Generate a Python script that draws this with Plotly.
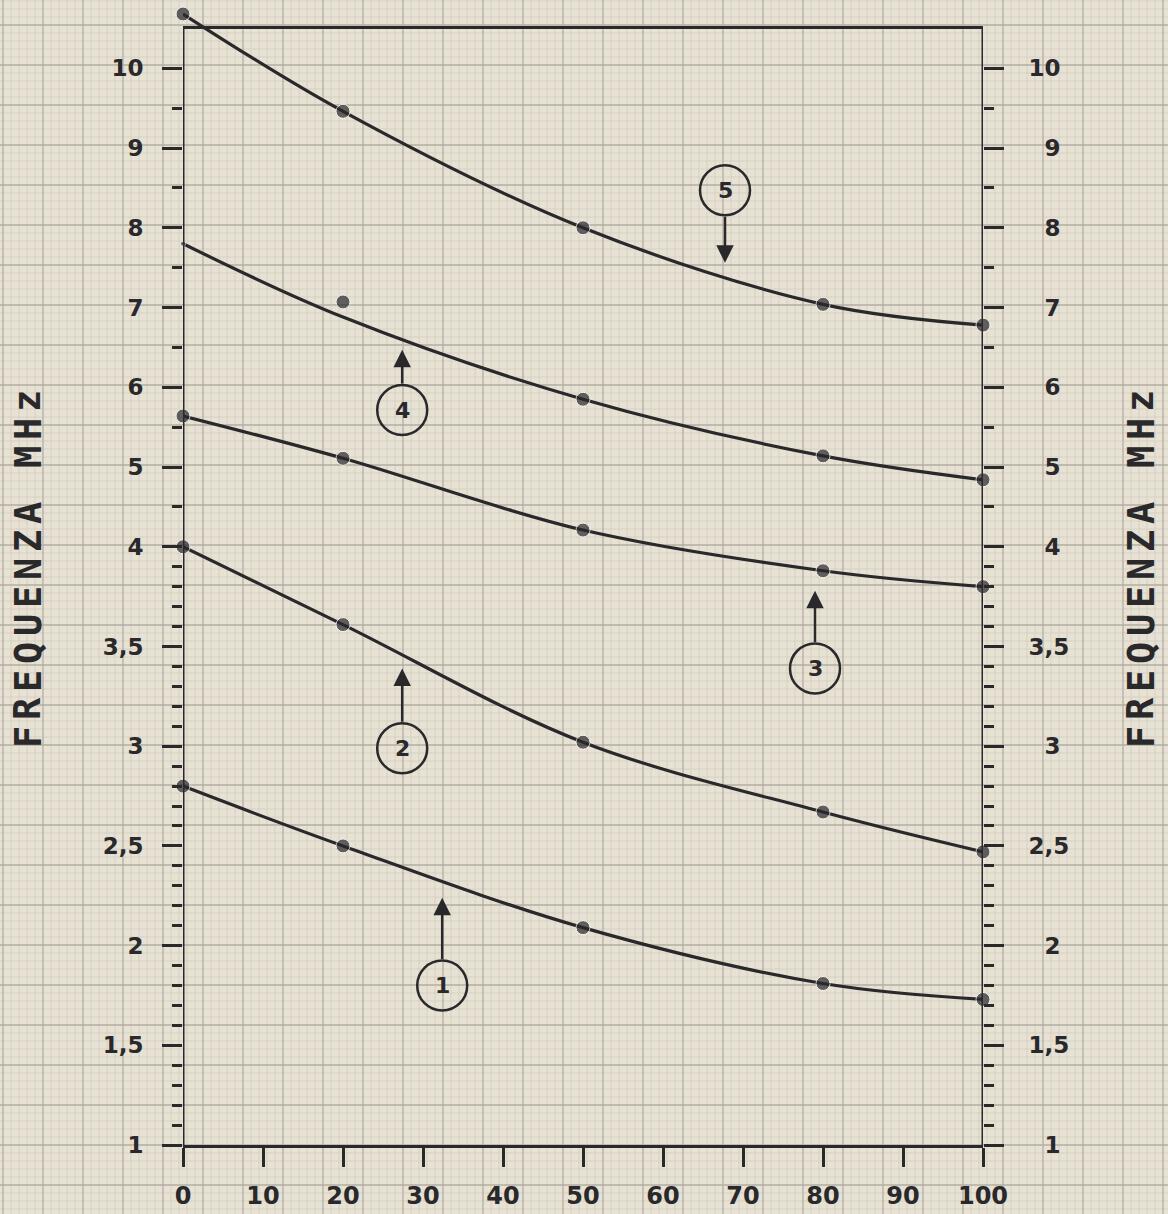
import numpy as np
import plotly.graph_objects as go

# ---------------- data ----------------
x_vals = [0, 20, 50, 80, 100]
curve1 = [2.80, 2.50, 2.09, 1.81, 1.73]
curve2 = [4.00, 3.61, 3.02, 2.67, 2.47]
curve3 = [5.64, 5.11, 4.21, 3.88, 3.80]
curve4_points = [7.80, 7.07, 5.85, 5.14, 4.84]
curve4_line = [7.80, 6.88, 5.85, 5.14, 4.84]
curve5 = [10.68, 9.46, 8.00, 7.04, 6.78]

x_ticks = [0, 10, 20, 30, 40, 50, 60, 70, 80, 90, 100]
y_major = [1, 1.5, 2, 2.5, 3, 3.5, 4, 5, 6, 7, 8, 9, 10]
y_major_text = ["1", "1,5", "2", "2,5", "3", "3,5", "4", "5", "6", "7", "8", "9", "10"]
y_minor = [round(1 + 0.1 * i, 2) for i in range(31)] + [4.5, 5.5, 6.5, 7.5, 8.5, 9.5]
frame_top = 10.51

# curve labels: (number, x, circle centre value, arrow tip value)
labels = [("1", 32.4, 1.80, 2.24),
          ("2", 27.4, 2.99, 3.39),
          ("3", 79.0, 3.39, 3.78),
          ("4", 27.4, 5.715, 6.47),
          ("5", 67.75, 8.47, 7.56)]

axis_title = "FREQUENZA MHz"

# ---------------- scale (the paper's broken frequency scale) ----------------
def tr(v):
    v = np.asarray(v, dtype=float)
    return np.where(v <= 4, v - 1, 3 + 0.4 * (v - 4))

INK = "#29282b"
BG = "#e7e2d4"
PX_PER_UNIT = 199.4
W, H = 1168, 1214
L, R, T, B = 183, 185, 5, 69
PW, PH = W - L - R, H - T - B
BOTTOM_PX = H - B
Y_TOP = PH / PX_PER_UNIT

y_minor_clean = [v for v in y_minor if all(abs(v - m) > 1e-6 for m in y_major)]

fig = go.Figure()

def add_curve(line_vals, point_vals, first_small=False):
    fig.add_trace(go.Scatter(x=x_vals, y=tr(line_vals), mode="lines",
                             line=dict(shape="spline", smoothing=1.0, color=INK, width=3.2),
                             cliponaxis=False, showlegend=False, hoverinfo="skip"))
    sizes = [14] * len(point_vals)
    if first_small:
        sizes[0] = 5
    fig.add_trace(go.Scatter(x=x_vals, y=tr(point_vals), mode="markers",
                             marker=dict(size=sizes, color=INK),
                             cliponaxis=False, showlegend=False))

add_curve(curve1, curve1)
add_curve(curve2, curve2)
add_curve(curve3, curve3)
add_curve(curve4_line, curve4_points, first_small=True)
add_curve(curve5, curve5)

# invisible trace so the right-hand axis is drawn
fig.add_trace(go.Scatter(x=x_vals, y=tr(curve1), yaxis="y2", mode="markers",
                         marker=dict(opacity=0), showlegend=False, hoverinfo="skip"))

# ---------------- graph paper ----------------
def xp(px):
    return (px - L) / PW

def yp(py):
    return (BOTTOM_PX - py) / PH

fine_v, major_v = [], []
for px in range(3, W + 1, 8):
    (major_v if (px - 3) % 40 == 0 else fine_v).append(px)
fine_h, major_h = [], []
for py in range(BOTTOM_PX % 8, H + 1, 8):
    (major_h if (BOTTOM_PX - py) % 40 == 0 else fine_h).append(py)

def path_for(vs, hs):
    parts = []
    for px in vs:
        parts.append(f"M{xp(px):.5f},{yp(H):.5f}L{xp(px):.5f},{yp(0):.5f}")
    for py in hs:
        parts.append(f"M{xp(0):.5f},{yp(py):.5f}L{xp(W):.5f},{yp(py):.5f}")
    return "".join(parts)

shapes = [
    dict(type="path", xref="paper", yref="paper", path=path_for(fine_v, fine_h),
         line=dict(color="#d5d0c2", width=1), layer="below"),
    dict(type="path", xref="paper", yref="paper", path=path_for(major_v, major_h),
         line=dict(color="#b3afa3", width=1.3), layer="below"),
]

# frame: left, right and top lines
top_t = float(tr(frame_top))
for x0, y0, x1, y1 in [(0, 0, 0, top_t), (100, 0, 100, top_t), (0, top_t, 100, top_t)]:
    shapes.append(dict(type="line", xref="x", yref="y", x0=x0, y0=y0, x1=x1, y1=y1,
                       line=dict(color=INK, width=3), layer="above"))

# ---------------- curve labels ----------------
annotations = []
R_CIRC = 25
for num, lx, cval, tval in labels:
    shapes.append(dict(type="circle", xref="x", yref="y", xsizemode="pixel", ysizemode="pixel",
                       xanchor=lx, yanchor=float(tr(cval)),
                       x0=-R_CIRC, x1=R_CIRC, y0=-R_CIRC, y1=R_CIRC,
                       line=dict(color=INK, width=2.5), layer="above"))
    annotations.append(dict(x=lx, y=float(tr(cval)), xref="x", yref="y", text=f"<b>{num}</b>",
                            showarrow=False, xanchor="center", yanchor="middle",
                            font=dict(family="DejaVu Sans", size=22, color=INK)))
    dist = (float(tr(tval)) - float(tr(cval))) * PX_PER_UNIT
    ay = (abs(dist) - R_CIRC) * (1 if dist > 0 else -1)
    annotations.append(dict(x=lx, y=float(tr(tval)), xref="x", yref="y", text="",
                            showarrow=True, ax=0, ay=ay, arrowhead=2, arrowsize=1.4,
                            arrowwidth=2.5, arrowcolor=INK, standoff=0, startstandoff=0))

# ---------------- axis titles (letter-spaced, reading upwards) ----------------
PITCH = 28
for cx in [28, 1141]:
    for i, ch in enumerate(axis_title):
        if ch == " ":
            continue
        cy = 737 - PITCH * i
        annotations.append(dict(x=xp(cx), y=yp(cy), xref="paper", yref="paper", text=ch,
                                showarrow=False, textangle=-90,
                                xanchor="center", yanchor="middle",
                                font=dict(family="DejaVu Sans Mono", size=37, color=INK,
                                          weight="bold")))

right_text = [t if len(t) > 1 else "\u2007" + t for t in y_major_text]

tick_font = dict(family="DejaVu Sans", size=23, color=INK, weight="bold")
yaxis_common = dict(range=[0, Y_TOP], showgrid=False, zeroline=False, showline=False,
                    tickmode="array", tickvals=list(tr(y_major)),
                    ticks="outside", ticklen=20, tickwidth=3, tickcolor=INK,
                    tickfont=tick_font,
                    minor=dict(tickmode="array", tickvals=list(tr(y_minor_clean)),
                               ticks="outside", ticklen=10, tickwidth=3, tickcolor=INK,
                               showgrid=False))

fig.update_layout(
    width=W, height=H,
    margin=dict(l=L, r=R, t=T, b=B, autoexpand=False),
    paper_bgcolor=BG, plot_bgcolor="rgba(0,0,0,0)",
    showlegend=False,
    xaxis=dict(range=[0, 100], showgrid=False, zeroline=False,
               tickmode="array", tickvals=x_ticks, ticktext=[str(v) for v in x_ticks],
               ticks="outside", ticklen=19, tickwidth=3, tickcolor=INK,
               showline=True, linewidth=3, linecolor=INK,
               tickfont=dict(family="DejaVu Sans", size=24, color=INK, weight="bold"),
               ticklabelstandoff=8),
    yaxis=dict(**yaxis_common, ticktext=y_major_text, side="left", ticklabelstandoff=14),
    yaxis2=dict(**yaxis_common, ticktext=right_text, side="right", overlaying="y",
                anchor="x", ticklabelstandoff=20),
    shapes=shapes,
    annotations=annotations,
)

fig.write_html("out.html", config={"displayModeBar": False},
               post_script="document.body.style.margin='0px';")
